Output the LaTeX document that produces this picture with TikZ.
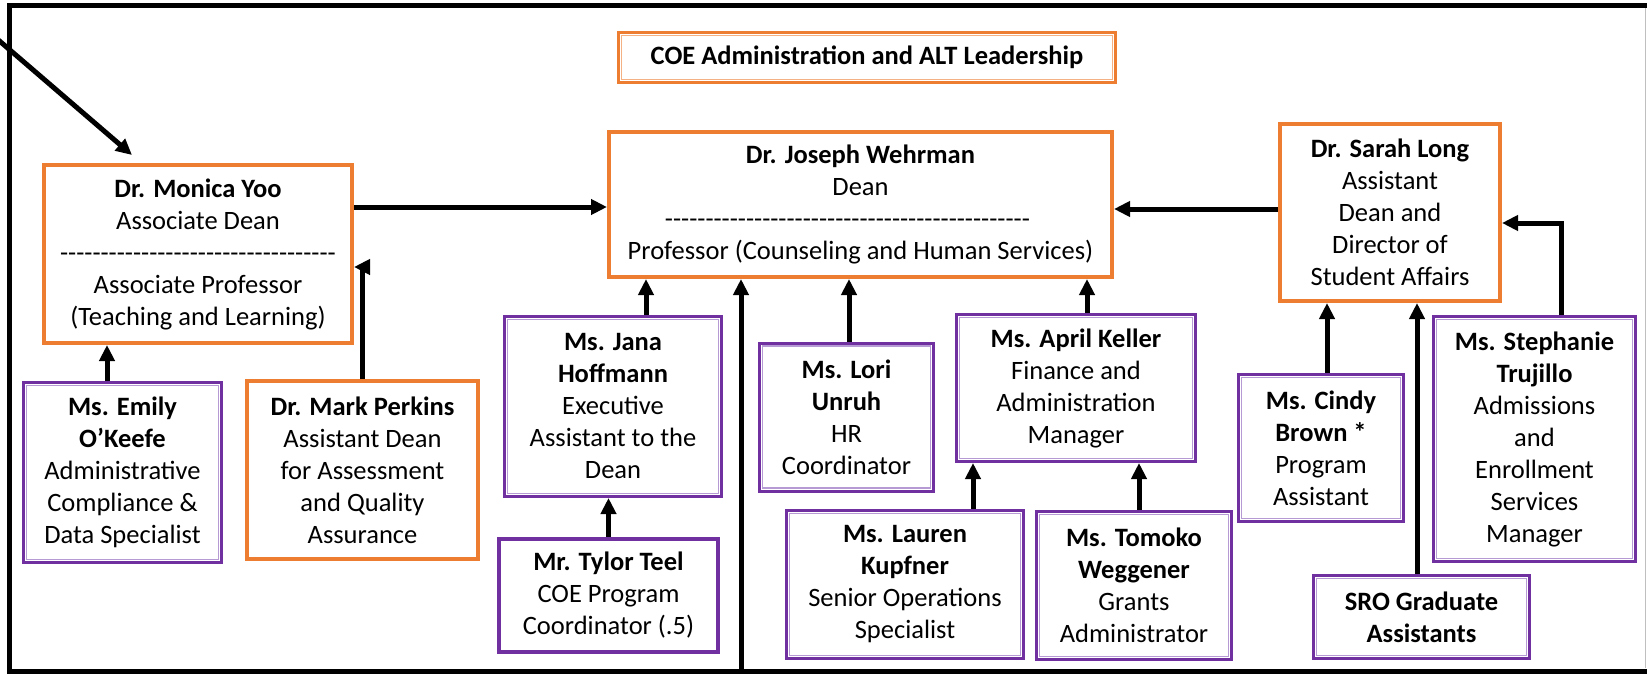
\documentclass[tikz,border=0pt]{standalone}
\usepackage{fontspec}
\setmainfont{Carlito}
\usetikzlibrary{arrows.meta}

\definecolor{coeorange}{HTML}{ED7D31}
\definecolor{coepurple}{HTML}{7030A0}
\definecolor{coelilac}{HTML}{B59AD3}
\definecolor{coepeach}{HTML}{F4B183}

\newcommand{\dashrow}[1]{\foreach \dashno in {1,...,#1}{-\kern0pt}}

\begin{document}
\begin{tikzpicture}[x=1pt, y=-1pt, >={Triangle[length=16pt,width=15pt]},
    link/.style={->, line width=5pt},
    box/.style={rectangle, align=center, inner sep=0pt, font=\fontsize{26.5}{32}\selectfont},
    inset/.style={path picture={\draw [#1, line width=1.2pt]
        ([shift={(3pt,-3pt)}]path picture bounding box.north west) rectangle
        ([shift={(-3pt,3pt)}]path picture bounding box.south east);}},
    heading/.style={box, draw=coeorange, line width=3pt, inset=coepeach, font=\fontsize{26.5}{30}\selectfont\bfseries},
    lead/.style={box, draw=coeorange, line width=4pt},
    staff/.style={box, draw=coepurple, line width=3pt, inset=coelilac},
    parttime/.style={box, draw=coepurple, line width=4pt}]
    \useasboundingbox (0,0) rectangle (1647,674);

    % Frame
    \draw [line width=5pt] (1660,5.5) -- (9.5,5.5) -- (9.5,671) -- (1660,671);
    \draw [gray!50, line width=1pt] (1645.5,8) -- (1645.5,668);

    % Boxes {title, monica, dean, sarah, emily, mark, jana, tylor, lori, lauren, april, tomoko, cindy, sro, steph}
    \node [heading, minimum width=497, minimum height=50]  (title)  at (867,57.5)    {COE Administration and ALT Leadership};
    \node [lead, minimum width=308, minimum height=178]    (monica) at (198,254)     {\textbf{Dr. Monica Yoo}\\Associate Dean\\\dashrow{34}\\Associate Professor\\(Teaching and Learning)};
    \node [lead, minimum width=503, minimum height=145]    (dean)   at (860.5,204.5) {\textbf{Dr. Joseph Wehrman}\\Dean\\\dashrow{45}\kern26pt\null\\Professor (Counseling and Human Services)};
    \node [lead, minimum width=220, minimum height=177]    (sarah)  at (1390,212.5)  {\textbf{Dr. Sarah Long}\\Assistant\\Dean and\\Director of\\Student Affairs};
    \node [staff, minimum width=198, minimum height=180]   (emily)  at (122.5,472.5) {\textbf{Ms. Emily}\\\textbf{O’Keefe}\\Administrative\\Compliance \&\\Data Specialist};
    \node [lead, minimum width=231, minimum height=178]    (mark)   at (362.5,470)   {\textbf{Dr. Mark Perkins}\\Assistant Dean\\for Assessment\\and Quality\\Assurance};
    \node [staff, minimum width=217, minimum height=180]   (jana)   at (613,406.5)   {\textbf{Ms. Jana}\\\textbf{Hoffmann}\\Executive\\Assistant to the\\Dean};
    \node [parttime, minimum width=219, minimum height=113] (tylor) at (608.5,595.5) {\textbf{Mr. Tylor Teel}\\COE Program\\Coordinator (.5)};
    \node [staff, minimum width=174, minimum height=148]   (lori)   at (846.5,417)   {\textbf{Ms. Lori}\\\textbf{Unruh}\\HR\\Coordinator};
    \node [staff, minimum width=237, minimum height=148]   (lauren) at (905,584.5)   {\textbf{Ms. Lauren}\\\textbf{Kupfner}\\Senior Operations\\Specialist};
    \node [staff, minimum width=239, minimum height=147]   (april)  at (1076,388)    {\textbf{Ms. April Keller}\\Finance and\\Administration\\Manager};
    \node [staff, minimum width=195, minimum height=148]   (tomoko) at (1134,585.5)  {\textbf{Ms. Tomoko}\\\textbf{Weggener}\\Grants\\Administrator};
    \node [staff, minimum width=165, minimum height=147]   (cindy)  at (1321,448)    {\textbf{Ms. Cindy}\\\textbf{Brown *}\\Program\\Assistant};
    \node [staff, minimum width=216, minimum height=83]    (sro)    at (1421.5,617)  {\textbf{SRO Graduate}\\\textbf{Assistants}};
    \node [staff, minimum width=202, minimum height=245]   (steph)  at (1534.5,439)  {\textbf{Ms. Stephanie}\\\textbf{Trujillo}\\Admissions\\and\\Enrollment\\Services\\Manager};

    \coordinate (offpage) at (-4,38);
    \coordinate (base)    at (741,670);

    % Arrows
    \path [link] (offpage) edge ([yshift=8pt]monica.north -| 132,0);
    \path [link] (emily.north -| 107,0) edge (monica.south -| 107,0);
    \draw [link] (mark.north) |- (monica.east |- 0,267);
    \path [link] (monica.east |- 0,207) edge (dean.west |- 0,207);
    \path [link] (sarah.west |- 0,209) edge (dean.east |- 0,209);
    \path [link] (jana.north -| 646,0) edge (dean.south -| 646,0);
    \path [link] (tylor.north) edge (jana.south -| tylor.north);
    \path [link] (base) edge (dean.south -| base);
    \path [link] (lori.north -| 849,0) edge (dean.south -| 849,0);
    \path [link] (april.north -| 1087,0) edge (dean.south -| 1087,0);
    \path [link] (lauren.north -| 973,0) edge (april.south -| 973,0);
    \path [link] (tomoko.north -| 1139,0) edge (april.south -| 1139,0);
    \path [link] (cindy.north -| 1327,0) edge (sarah.south -| 1327,0);
    \path [link] (sro.north -| 1417,0) edge (sarah.south -| 1417,0);
    \draw [link] (steph.north -| 1561,0) |- (sarah.east |- 0,223);

\end{tikzpicture}
\end{document}
